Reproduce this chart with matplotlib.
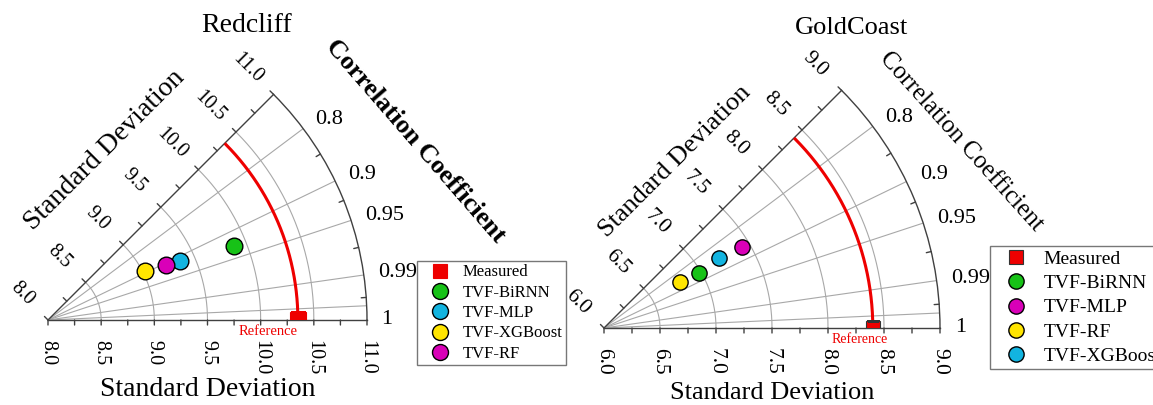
import numpy as np
import matplotlib
matplotlib.use("Agg")
import matplotlib.pyplot as plt
from matplotlib.lines import Line2D

plt.rcParams["font.family"] = ["Liberation Serif", "DejaVu Serif"]

# ---------------- data ----------------
corr_ticks = [0.8, 0.9, 0.95, 0.99, 1.0]
corr_tick_labels = ["0.8", "0.9", "0.95", "0.99", "1"]
corr_grid = [0.8, 0.9, 0.95, 0.99, 0.999]

# Redcliff
rc_title = "Redcliff"
rc_std_range = (8.0, 11.0)
rc_ref_std = 10.35
rc_models = ["TVF-BiRNN", "TVF-MLP", "TVF-XGBoost", "TVF-RF"]
rc_std = [9.88, 9.36, 9.02, 9.22]
rc_corr = [0.928, 0.913, 0.893, 0.906]
rc_colors = ["#17c217", "#12b4e0", "#ffe500", "#d900b8"]

# GoldCoast
gc_title = "GoldCoast"
gc_std_range = (6.0, 9.0)
gc_ref_std = 8.40
gc_models = ["TVF-BiRNN", "TVF-MLP", "TVF-RF", "TVF-XGBoost"]
gc_std = [6.98, 7.43, 6.79, 7.20]
gc_corr = [0.868, 0.862, 0.854, 0.854]
gc_colors = ["#17c217", "#d900b8", "#ffe500", "#12b4e0"]

RED = "#ee0000"
GRID = "#a8a8a8"
AXC = "#404040"

W, H = 1153, 405
fig = plt.figure(figsize=(W / 100, H / 100), dpi=100)


def seg(ax, xy, dxy):
    ax.annotate("", xy=xy, xytext=dxy, textcoords="offset pixels",
                arrowprops=dict(arrowstyle="-", shrinkA=0, shrinkB=0,
                                color=AXC, lw=1.0),
                annotation_clip=False)


def place_wedge(ax, origin, radius, rmin, rmax):
    """Position a 0-45 degree polar wedge so that its apex sits at `origin`
    (pixels from top-left) and its outer radius spans `radius` pixels."""
    l, b, w, h = 0.1, 0.1, 0.4, 0.4 * np.sin(np.pi / 4) * W / H
    ax.set_position([l, b, w, h])
    fig.canvas.draw()
    o = ax.transData.transform((0, rmin))
    e = ax.transData.transform((0, rmax))
    lp, bp, wp, hp = l * W, b * H, w * W, h * H
    s = (e[0] - o[0]) / wp
    a = (o[0] - lp) / wp
    c = (o[1] - bp) / wp
    wn = radius / s
    hn = wn * hp / wp
    ln = origin[0] - a * wn
    bn = (H - origin[1]) - c * wn
    ax.set_position([ln / W, bn / H, wn / W, hn / H])


def taylor(origin, radius, std_range, ref_std, models, stds, corrs, colors,
           title, title_xy, bold_cc, cc_xy, cc_rot, fs):
    rmin, rmax = std_range
    span = rmax - rmin
    ax = fig.add_axes([0.1, 0.1, 0.4, 0.4], projection="polar")
    ax.set_thetamin(0)
    ax.set_thetamax(45)
    ax.set_rlim(rmin, rmax)
    ax.set_xticks([])
    ax.set_yticks([])
    ax.grid(False)
    for name, sp in ax.spines.items():
        sp.set_color(AXC)
        sp.set_linewidth(1.0)
    ax.spines["inner"].set_visible(False)
    place_wedge(ax, origin, radius, rmin, rmax)

    th = np.linspace(0, np.pi / 4, 300)
    # std arcs
    for r in np.arange(rmin + 0.5, rmax - 0.01, 0.5):
        ax.plot(th, np.full_like(th, r), color=GRID, lw=0.8, zorder=1)
    # correlation rays
    for c in corr_grid:
        a = np.arccos(c)
        ax.plot([a, a], [rmin, rmax], color=GRID, lw=0.8, zorder=1)

    # ticks on the two straight axes
    n = 0.7071
    for r in np.arange(rmin, rmax + 0.01, 0.25):
        seg(ax, (0, r), (0, -5))
        seg(ax, (np.pi / 4, r), (-5 * n, 5 * n))
    # minor ticks on the outer arc between labelled correlations
    angs = [np.arccos(c) for c in corr_ticks]
    for a0, a1 in zip(angs[:-1], angs[1:]):
        am = 0.5 * (a0 + a1)
        seg(ax, (am, rmax), (-5 * np.cos(am), -5 * np.sin(am)))

    # std tick labels
    for r in np.arange(rmin, rmax + 0.01, 0.5):
        ax.annotate(f"{r:.1f}", xy=(0, r), xytext=(0, -20),
                    textcoords="offset pixels", rotation=-90, ha="center",
                    va="top", fontsize=fs["tick"], annotation_clip=False)
        ax.annotate(f"{r:.1f}", xy=(np.pi / 4, r), xytext=(-37 * n, 37 * n),
                    textcoords="offset pixels", rotation=-45, ha="center",
                    va="center", fontsize=fs["tick"], annotation_clip=False)
    # correlation labels
    for c, lab in zip(corr_ticks, corr_tick_labels):
        ax.text(np.arccos(c), rmin + 1.045 * span, lab, ha="left",
                va="center", fontsize=fs["corr"])

    # axis titles
    rmid = rmin + span / 2
    ax.annotate("Standard Deviation", xy=(0, rmid), xytext=(0, -fs["sd_off"]),
                textcoords="offset pixels", ha="center", va="center",
                fontsize=fs["label"], annotation_clip=False)
    ax.annotate("Standard Deviation", xy=(np.pi / 4, rmid),
                xytext=(-fs["sd_edge"] * n, fs["sd_edge"] * n),
                textcoords="offset pixels", ha="center", va="center",
                rotation=45, fontsize=fs["label"], annotation_clip=False)
    fig.text(cc_xy[0] / W, 1 - cc_xy[1] / H, "Correlation Coefficient",
             rotation=cc_rot, ha="center", va="center", fontsize=fs["cc"],
             fontweight="bold" if bold_cc else "normal")
    fig.text(title_xy[0] / W, 1 - title_xy[1] / H, title, ha="center",
             va="center", fontsize=fs["title"])

    # reference arc and point
    ax.plot(th, np.full_like(th, ref_std), color=RED, lw=2.2, zorder=3)
    ax.plot([0], [ref_std], "s", ms=fs["ref_ms"], mfc=RED,
            mec=fs["ref_mec"], mew=0.8, zorder=4)
    ax.annotate("Reference", xy=(0, ref_std), xytext=(fs["ref_dx"], -5),
                textcoords="offset pixels", ha="right", va="top", color=RED,
                fontsize=fs["ref"], annotation_clip=False)

    # model points
    for s, c, col in zip(stds, corrs, colors):
        ax.plot([np.arccos(c)], [s], "o", ms=fs["ms"], mfc=col, mec="black",
                mew=1.0, zorder=5, clip_on=False)

    handles = [Line2D([], [], ls="none", marker="s", ms=fs["leg_ms"] - 1,
                      mfc=RED, mec=fs["ref_mec"], mew=0.8)]
    handles += [Line2D([], [], ls="none", marker="o", ms=fs["leg_ms"],
                       mfc=col, mec="black", mew=1.0) for col in colors]
    leg = fig.legend(handles, ["Measured"] + list(models), loc="upper left",
                     bbox_to_anchor=(fs["leg_xy"][0] / W, 1 - fs["leg_xy"][1] / H),
                     bbox_transform=fig.transFigure, borderaxespad=0,
                     fontsize=fs["leg"], frameon=True, fancybox=False,
                     borderpad=0.2, labelspacing=fs["leg_sp"],
                     handlelength=2.3, handletextpad=0.25)
    leg.get_frame().set_edgecolor("#555555")
    leg.get_frame().set_linewidth(1.0)
    return ax


taylor((48, 320), 319, rc_std_range, rc_ref_std, rc_models, rc_std, rc_corr,
       rc_colors, rc_title, (247, 25), True, (415, 141), -49,
       dict(tick=14.5, corr=16, label=20, cc=19, title=20, ref=10.5,
            ref_dx=0, ref_ms=11, ref_mec=RED, ms=12, leg_ms=11.5, leg=12,
            leg_sp=0.26, leg_xy=(417, 261), sd_off=70, sd_edge=80))

taylor((604, 328), 336, gc_std_range, gc_ref_std, gc_models, gc_std, gc_corr,
       gc_colors, gc_title, (851, 28), False, (961, 141), -48,
       dict(tick=15.5, corr=16, label=19, cc=18, title=19, ref=10,
            ref_dx=15, ref_ms=10, ref_mec="#333333", ms=11, leg_ms=11,
            leg=14, leg_sp=0.35, leg_xy=(990, 246), sd_off=65, sd_edge=67))

fig.savefig("out.png", dpi=100)
